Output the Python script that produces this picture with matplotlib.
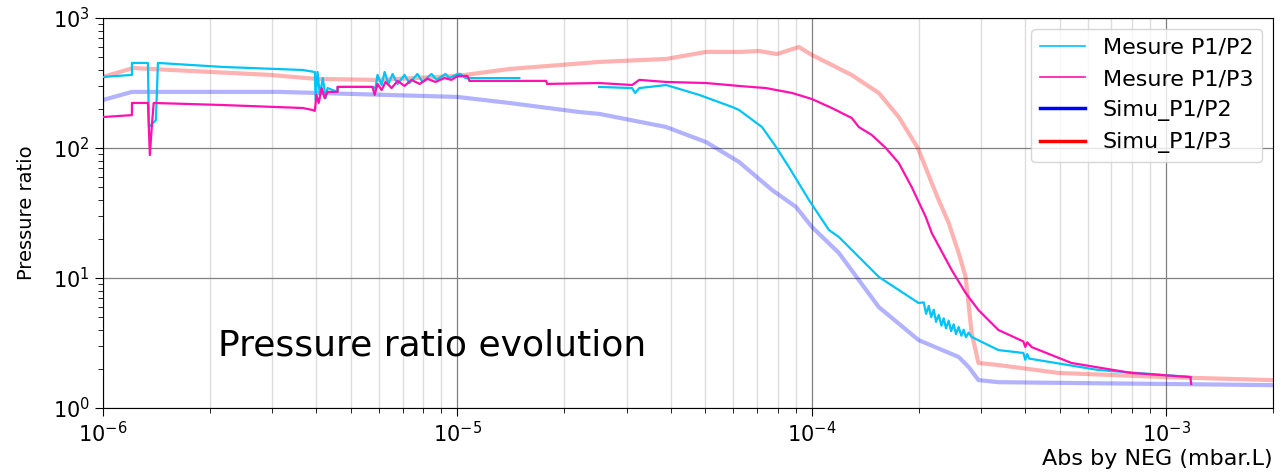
import numpy as np
import matplotlib
matplotlib.use("Agg")
import matplotlib.pyplot as plt
from matplotlib.lines import Line2D

# ---------------- data ----------------
simu_p3_x = [1.0e-6, 1.215e-6, 2.95e-6, 4.0e-6, 5.9e-6, 1.0e-5, 1.4e-5, 2.51e-5, 3.88e-5,
             5.03e-5, 6.23e-5, 7.09e-5, 7.97e-5, 9.19e-5, 1.0e-4, 1.095e-4, 1.296e-4,
             1.544e-4, 1.758e-4, 1.99e-4, 2.178e-4, 2.279e-4, 2.432e-4, 2.594e-4,
             2.715e-4, 2.823e-4, 2.95e-4, 3.36e-4, 4.97e-4, 9.93e-4, 1.976e-3]
simu_p3_y = [352, 412, 365, 340, 334, 358, 405, 459, 484,
             548, 548, 557, 528, 598, 519, 459, 364,
             265, 173, 100, 53.8, 39.8, 26.5, 15.6,
             10.2, 3.78, 2.22, 2.14, 1.86, 1.73, 1.64]

simu_p2_x = [1.0e-6, 1.207e-6, 3.15e-6, 1.0e-5, 1.4e-5, 2.21e-5, 2.51e-5, 3.88e-5, 5.03e-5,
             6.23e-5, 7.72e-5, 9.02e-5, 1.0e-4, 1.191e-4, 1.544e-4, 2.0e-4, 2.594e-4,
             2.767e-4, 2.95e-4, 3.36e-4, 5.19e-4, 1.976e-3]
simu_p2_y = [234, 270, 270, 247, 222, 189, 183, 145, 111,
             78.1, 47.5, 35.2, 24.7, 15.6, 5.98, 3.33, 2.47,
             2.07, 1.64, 1.58, 1.56, 1.50]

mes_p2_x = [1.0e-6, 1.207e-6, 1.207e-6, 1.322e-6, 1.339e-6, 1.348e-6, 1.41e-6, 1.429e-6,
            2.18e-6, 3.66e-6, 3.96e-6, 3.98e-6, 4.03e-6, 4.09e-6, 4.17e-6, 4.25e-6, 4.30e-6,
            4.59e-6, 4.59e-6, 5.76e-6,
            5.87e-6, 5.95e-6, 6.11e-6, 6.23e-6, 6.39e-6, 6.56e-6, 6.78e-6, 7.09e-6, 7.32e-6,
            7.71e-6, 7.97e-6, 8.45e-6, 8.73e-6, 9.25e-6, 9.49e-6, 1.0e-5, 1.02e-5, 1.053e-5,
            1.495e-5, np.nan,
            2.51e-5, 3.11e-5, 3.17e-5, 3.26e-5, 3.88e-5, 4.81e-5, 5.95e-5, 6.23e-5, 7.23e-5,
            7.92e-5, 8.61e-5, 9.81e-5, 1.117e-4, 1.191e-4, 1.544e-4, 2.0e-4,
            2.068e-4, 2.10e-4, 2.136e-4, 2.17e-4, 2.207e-4, 2.24e-4, 2.279e-4, 2.32e-4,
            2.354e-4, 2.39e-4, 2.432e-4, 2.47e-4, 2.512e-4, 2.55e-4, 2.594e-4, 2.64e-4,
            2.68e-4, 2.72e-4, 2.767e-4, 2.823e-4, 3.36e-4,
            3.95e-4, 4.0e-4, 4.05e-4, 4.1e-4, 6.43e-4, 1.175e-3]
mes_p2_y = [352, 365, 451, 451, 451, 145, 164, 451,
            420, 398, 384, 234, 384, 256, 345, 242, 289,
            270, 295, 295,
            289, 365, 305, 384, 311, 371, 311, 365, 316,
            371, 322, 371, 334, 371, 345, 371, 371, 345,
            345, np.nan,
            295, 289, 265, 289, 305, 256, 207, 196, 145,
            102, 71.4, 39.8, 23.4, 20.7, 10.2, 6.42,
            6.5, 5.3, 6.1, 5.0, 5.7, 4.6, 5.2, 4.3,
            4.9, 4.1, 4.7, 3.9, 4.4, 3.7, 4.2, 3.6,
            4.0, 3.5, 3.8, 3.52, 2.79,
            2.65, 2.35, 2.6, 2.4, 1.96, 1.73]

mes_p3_x = [1.0e-6, 1.207e-6, 1.207e-6, 1.339e-6, 1.356e-6, 1.374e-6, 1.39e-6, 2.18e-6,
            3.66e-6, 3.9e-6, 3.96e-6, 4.0e-6, 4.06e-6, 4.14e-6, 4.22e-6, 4.30e-6, 4.59e-6,
            4.59e-6, 5.76e-6,
            5.84e-6, 5.95e-6, 6.11e-6, 6.27e-6, 6.52e-6, 6.78e-6, 7.09e-6, 7.42e-6, 7.82e-6,
            8.23e-6, 8.67e-6, 9.19e-6, 9.62e-6, 1.0e-5, 1.067e-5, 1.081e-5, 1.78e-5, 1.79e-5,
            2.51e-5, 3.11e-5, 3.26e-5, 3.88e-5, 5.03e-5, 6.23e-5, 7.42e-5, 8.79e-5, 1.0e-4,
            1.138e-4, 1.296e-4, 1.356e-4, 1.475e-4, 1.616e-4, 1.758e-4, 1.912e-4, 2.095e-4,
            2.178e-4, 2.48e-4, 2.715e-4, 2.95e-4, 3.36e-4, 3.95e-4, 4.0e-4, 4.05e-4, 4.17e-4,
            5.4e-4, 7.97e-4, 1.169e-3, 1.175e-3]
mes_p3_y = [173, 179, 222, 222, 88.3, 150, 222, 214,
            203, 196, 193, 256, 222, 289, 242, 270, 270,
            295, 295,
            256, 311, 279, 322, 289, 328, 300, 334, 311,
            340, 322, 345, 334, 358, 358, 328, 328, 311,
            316, 305, 334, 322, 316, 300, 289, 265, 238,
            203, 170, 145, 126, 100, 76.7, 50.1, 29.5,
            22.2, 11.5, 7.67, 5.67, 3.98, 3.25, 2.95, 3.2, 2.94,
            2.22, 1.86, 1.73, 1.53]

labels = ["Mesure P1/P2", "Mesure P1/P3", "Simu_P1/P2", "Simu_P1/P3"]
title_text = "Pressure ratio evolution"
x_label = "Abs by NEG (mbar.L)"
y_label = "Pressure ratio"

# ---------------- figure ----------------
fig = plt.figure(figsize=(12.81, 4.73), dpi=100)
ax = fig.add_axes([0.0804, 0.1374, 0.9134, 0.8246])

c_p2 = "#00c4f5"
c_p3 = "#ff10b0"

ax.plot(simu_p3_x, simu_p3_y, color="red", alpha=0.3, lw=3, zorder=2)
ax.plot(simu_p2_x, simu_p2_y, color="blue", alpha=0.3, lw=3, zorder=2)
ax.plot(mes_p2_x, mes_p2_y, color=c_p2, lw=1.6, zorder=3)
ax.plot(mes_p3_x, mes_p3_y, color=c_p3, lw=1.6, zorder=4)

ax.set_xscale("log")
ax.set_yscale("log")
ax.set_xlim(1e-6, 2e-3)
ax.set_ylim(1, 1000)

ax.grid(which="major", axis="both", color="#808080", lw=0.9)
ax.grid(which="minor", axis="x", color="#dddddd", lw=1.0)
ax.set_axisbelow(True)

ax.tick_params(axis="both", which="major", labelsize=15, length=6)
ax.tick_params(axis="both", which="minor", length=3.5)

ax.set_xlabel(x_label, fontsize=16, loc="right", labelpad=2)
ax.set_ylabel(y_label, fontsize=14, labelpad=12)

ax.text(0.098, 0.16, title_text, transform=ax.transAxes, fontsize=26,
        ha="left", va="center")

handles = [Line2D([], [], color=c_p2, lw=1.2),
           Line2D([], [], color=c_p3, lw=1.2),
           Line2D([], [], color="blue", lw=2.5),
           Line2D([], [], color="red", lw=2.5)]
ax.legend(handles, labels, loc="upper right", fontsize=16)

fig.savefig("out.png", dpi=100)
